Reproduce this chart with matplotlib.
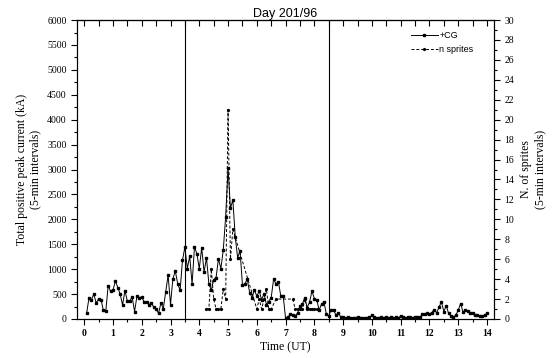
import numpy as np
import matplotlib
matplotlib.use("Agg")
import matplotlib.pyplot as plt
from matplotlib.ticker import MultipleLocator
from matplotlib.lines import Line2D

# +CG total peak current per 5-min interval (kA), first interval ends 00:05 UT
cg_kA = [
    110, 425, 380, 500, 320, 405, 390, 175, 155, 670, 555, 575,
    765, 630, 500, 280, 570, 360, 360, 445, 150, 455, 425, 445,
    340, 340, 290, 320, 240, 210, 110, 320, 210, 540, 880, 290,
    810, 960, 710, 575, 1180, 1445, 1010, 1260, 700, 1445, 1310, 1010,
    1430, 940, 1225, 710, 575, 790, 830, 1210, 1010, 1380, 2050, 3030,
    2220, 2390, 1650, 1230, 1370, 690, 700, 800, 530, 430, 580, 460,
    560, 390, 500, 290, 350, 430, 800, 700, 750, 460, 460, 15,
    40, 95, 80, 60, 120, 255, 300, 430, 230, 340, 560, 410,
    380, 180, 300, 340, 100, 60, 185, 185, 75, 120, 40, 30,
    25, 30, 20, 25, 15, 40, 20, 15, 25, 20, 40, 70,
    45, 20, 15, 30, 20, 45, 25, 30, 20, 35, 25, 55,
    30, 20, 40, 30, 25, 45, 40, 30, 90, 100, 110, 95,
    130, 190, 120, 240, 340, 150, 270, 110, 55, 40, 75, 175,
    310, 140, 175, 160, 120, 110, 70, 70, 60, 65, 80, 110,
]
cg_time = np.arange(1, len(cg_kA) + 1) / 12.0

# sprites counted per 5-min interval (only intervals with sprites)
spr_time = [4.25, 4.333, 4.417, 4.5, 4.583, 4.667, 4.75, 4.833, 4.917, 5.0,
            5.083, 5.167, 6.0, 6.083, 6.167, 6.25, 6.333, 6.417, 6.5, 6.667,
            7.25, 7.333, 7.417, 7.5, 7.583, 7.667, 7.75, 7.833, 7.917, 8.0, 8.083]
spr_n = [1, 1, 5, 2, 1, 1, 1, 3, 2, 21,
         6, 9, 1, 2, 1, 2, 3, 1, 1, 2,
         2, 1, 1, 1, 1, 2, 1, 1, 1, 1, 1]

markers_ut = [3.5, 8.5]

serif = "Liberation Serif"
sans = "Liberation Sans"

fig = plt.figure(figsize=(5.54, 3.58), dpi=100)
ax = fig.add_axes([0.139, 0.109, 0.753, 0.835])

ax.plot(cg_time, cg_kA, "-", color="k", lw=0.7, marker="s", ms=1.5)
for t in markers_ut:
    ax.axvline(t, color="k", lw=0.8)

ax.set_xlim(-0.25, 14.25)
ax.set_ylim(0, 6000)
ax.xaxis.set_major_locator(MultipleLocator(1))
ax.xaxis.set_minor_locator(MultipleLocator(0.5))
ax.yaxis.set_major_locator(MultipleLocator(500))
ax.yaxis.set_minor_locator(MultipleLocator(250))
ax.tick_params(which="major", direction="out", length=4, width=0.8, labelsize=7)
ax.tick_params(which="minor", direction="out", length=2.5, width=0.8)
for lab in ax.get_xticklabels():
    lab.set_fontfamily(serif)
    lab.set_fontweight("bold")
for lab in ax.get_yticklabels():
    lab.set_fontfamily(serif)

ax.set_xlabel("Time (UT)", fontfamily=serif, fontsize=8.5, labelpad=2)
ax.set_ylabel("Total positive peak current (kA)\n(5-min intervals)",
              fontfamily=serif, fontsize=8.5, labelpad=4)

top = ax.secondary_xaxis("top")
top.xaxis.set_major_locator(MultipleLocator(1))
top.xaxis.set_minor_locator(MultipleLocator(0.5))
top.tick_params(which="major", direction="in", length=4, width=0.8, labeltop=False)
top.tick_params(which="minor", direction="in", length=4, width=0.8)

ax2 = ax.twinx()
ax2.plot(spr_time, spr_n, color="k", lw=0.7, ls=(0, (3, 2)), marker="o", ms=1.3)
ax2.set_ylim(0, 30)
ax2.yaxis.set_major_locator(MultipleLocator(2))
ax2.yaxis.set_minor_locator(MultipleLocator(1))
ax2.tick_params(which="major", direction="out", length=4, width=0.8, labelsize=7)
ax2.tick_params(which="minor", direction="out", length=2.5, width=0.8)
for lab in ax2.get_yticklabels():
    lab.set_fontfamily(serif)
ax2.set_ylabel("N. of sprites\n(5-min intervals)", fontfamily=serif, fontsize=8.5, labelpad=4)

for a in (ax, ax2):
    for s in a.spines.values():
        s.set_linewidth(0.8)

handles = [Line2D([], [], color="k", lw=0.7, ls="-", marker="s", ms=1.5),
           Line2D([], [], color="k", lw=0.7, ls=(0, (3, 2)), marker="o", ms=1.3)]
ax2.legend(handles, ["+CG", "n sprites"], loc="upper right", frameon=False,
           prop={"family": sans, "size": 6.5}, handlelength=3, handletextpad=0.2,
           labelspacing=0.5, bbox_to_anchor=(0.97, 0.99))

ax.set_title("Day 201/96", fontfamily=sans, fontsize=9, pad=2)

fig.savefig("out.png", dpi=100)
